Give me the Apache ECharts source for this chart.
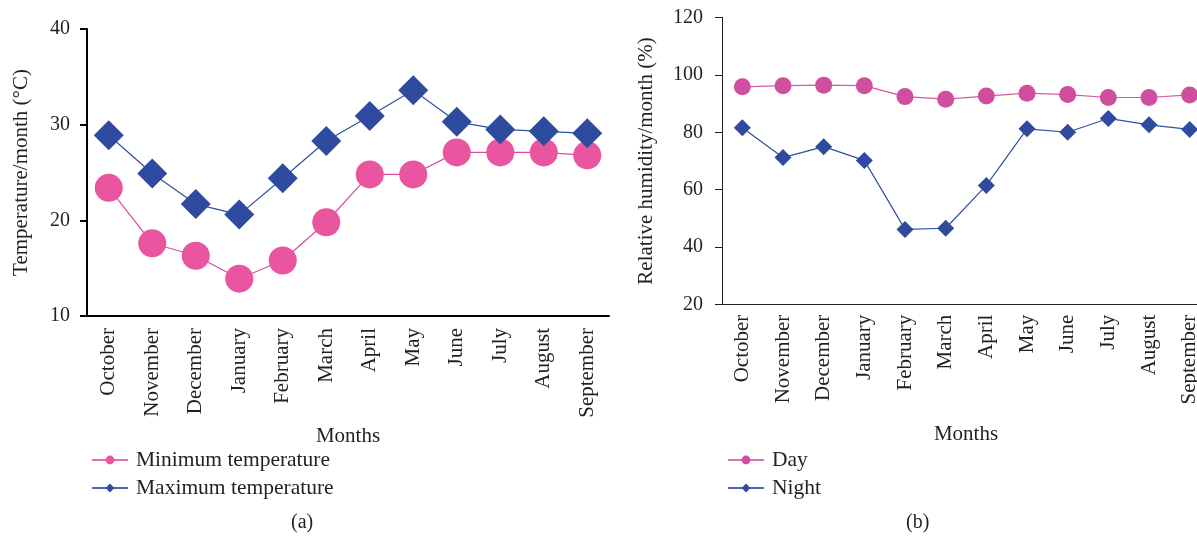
<!DOCTYPE html>
<html>
<head>
<meta charset="utf-8">
<script src="https://cdn.jsdelivr.net/npm/echarts@6/dist/echarts.min.js"></script>
<style>
  html, body { margin: 0; padding: 0; background: #fff; }
  #chart { width: 1197px; height: 537px; }
</style>
</head>
<body>
<div id="chart"></div>
<script>
// Monthly climate records, October through September
const months = ['October', 'November', 'December', 'January', 'February', 'March',
                'April', 'May', 'June', 'July', 'August', 'September'];

// Panel (a): temperature per month (°C)
const minTemperature = [23.4, 17.6, 16.3, 13.9, 15.8, 19.8, 24.8, 24.8, 27.1, 27.1, 27.1, 26.8];
const maxTemperature = [28.9, 24.9, 21.7, 20.6, 24.4, 28.3, 30.9, 33.6, 30.3, 29.5, 29.3, 29.1];
const temperatureTicks = { min: 10, max: 40, interval: 10 };

// Panel (b): relative humidity per month (%)
const dayHumidity = [95.8, 96.2, 96.4, 96.2, 92.4, 91.5, 92.6, 93.6, 93.1, 92.1, 92.1, 93.0];
const nightHumidity = [81.6, 71.2, 75.0, 70.2, 46.2, 46.6, 61.5, 81.2, 80.0, 84.8, 82.6, 81.0];
const humidityTicks = { min: 20, max: 120, interval: 20 };

const FONT = 'Liberation Serif';
const INK = '#231f20';
const PINK_A = '#ea559f';
const PINK_B = '#cf4f9e';
const BLUE = '#2f4b9f';

const chart = echarts.init(document.getElementById('chart'), null, { renderer: 'canvas' });

function catAxis(gridIndex, lineWidth, labelMargin, nameGap) {
  return {
    type: 'category',
    gridIndex: gridIndex,
    data: months,
    boundaryGap: true,
    name: 'Months',
    nameLocation: 'middle',
    nameGap: nameGap,
    nameTextStyle: { fontFamily: FONT, fontSize: 21, color: INK },
    axisLine: { show: true, lineStyle: { color: lineWidth > 1 ? '#000' : INK, width: lineWidth } },
    axisTick: { show: false },
    axisLabel: { interval: 0, rotate: 90, margin: labelMargin, fontFamily: FONT, fontSize: 21, color: INK },
    splitLine: { show: false }
  };
}

function valAxis(gridIndex, ticks, name, lineWidth, labelMargin, nameGap) {
  return {
    type: 'value',
    gridIndex: gridIndex,
    min: ticks.min,
    max: ticks.max,
    interval: ticks.interval,
    name: name,
    nameLocation: 'middle',
    nameGap: nameGap,
    nameTextStyle: { fontFamily: FONT, fontSize: 21, color: INK },
    axisLine: { show: true, lineStyle: { color: lineWidth > 1 ? '#000' : INK, width: lineWidth } },
    axisTick: { show: true, inside: false, length: 7, lineStyle: { color: lineWidth > 1 ? '#000' : INK, width: lineWidth } },
    axisLabel: { margin: labelMargin, fontFamily: FONT, fontSize: 20, color: INK },
    splitLine: { show: false }
  };
}

const legendText = { fontFamily: FONT, fontSize: 21.5, color: INK, padding: [0, 0, 0, 3] };

chart.setOption({
  animation: false,
  backgroundColor: '#fff',
  grid: [
    { left: 87, top: 29, width: 522, height: 287, outerBoundsMode: 'none' },
    { left: 722, top: 17.3, width: 488, height: 287.4, outerBoundsMode: 'none' }
  ],
  xAxis: [
    catAxis(0, 2, 12, 107),
    catAxis(1, 1, 10, 119)
  ],
  yAxis: [
    valAxis(0, temperatureTicks, 'Temperature/month (°C)', 2, 17, 55),
    valAxis(1, humidityTicks, 'Relative humidity/month (%)', 1, 19, 65)
  ],
  legend: [
    {
      left: 86, top: 444, orient: 'vertical',
      itemWidth: 36, itemHeight: 11, itemGap: 6,
      textStyle: legendText,
      data: [
        { name: 'Minimum temperature', lineStyle: { color: '#e46fb0' } },
        { name: 'Maximum temperature', lineStyle: { color: '#4a66b0' } }
      ]
    },
    {
      left: 722, top: 444, orient: 'vertical',
      itemWidth: 36, itemHeight: 11, itemGap: 6,
      textStyle: legendText,
      data: [
        { name: 'Day', lineStyle: { color: '#e46fb0' } },
        { name: 'Night', lineStyle: { color: '#4a66b0' } }
      ]
    }
  ],
  graphic: [
    { type: 'text', left: 291, top: 513, style: { text: '(a)', font: '20px "Liberation Serif"', fill: INK } },
    { type: 'text', left: 906, top: 513, style: { text: '(b)', font: '20px "Liberation Serif"', fill: INK } }
  ],
  series: [
    {
      name: 'Minimum temperature', type: 'line', xAxisIndex: 0, yAxisIndex: 0,
      data: minTemperature, symbol: 'circle', symbolSize: 28,
      lineStyle: { color: '#d94c9e', width: 1.2 },
      itemStyle: { color: PINK_A }
    },
    {
      name: 'Maximum temperature', type: 'line', xAxisIndex: 0, yAxisIndex: 0,
      data: maxTemperature, symbol: 'diamond', symbolSize: 30,
      lineStyle: { color: '#3050a0', width: 1.2 },
      itemStyle: { color: BLUE }
    },
    {
      name: 'Day', type: 'line', xAxisIndex: 1, yAxisIndex: 1,
      data: dayHumidity, symbol: 'circle', symbolSize: 17,
      lineStyle: { color: '#d45aa3', width: 1.2 },
      itemStyle: { color: PINK_B }
    },
    {
      name: 'Night', type: 'line', xAxisIndex: 1, yAxisIndex: 1,
      data: nightHumidity, symbol: 'diamond', symbolSize: 17,
      lineStyle: { color: '#3050a0', width: 1.2 },
      itemStyle: { color: BLUE }
    }
  ]
});
</script>
</body>
</html>
